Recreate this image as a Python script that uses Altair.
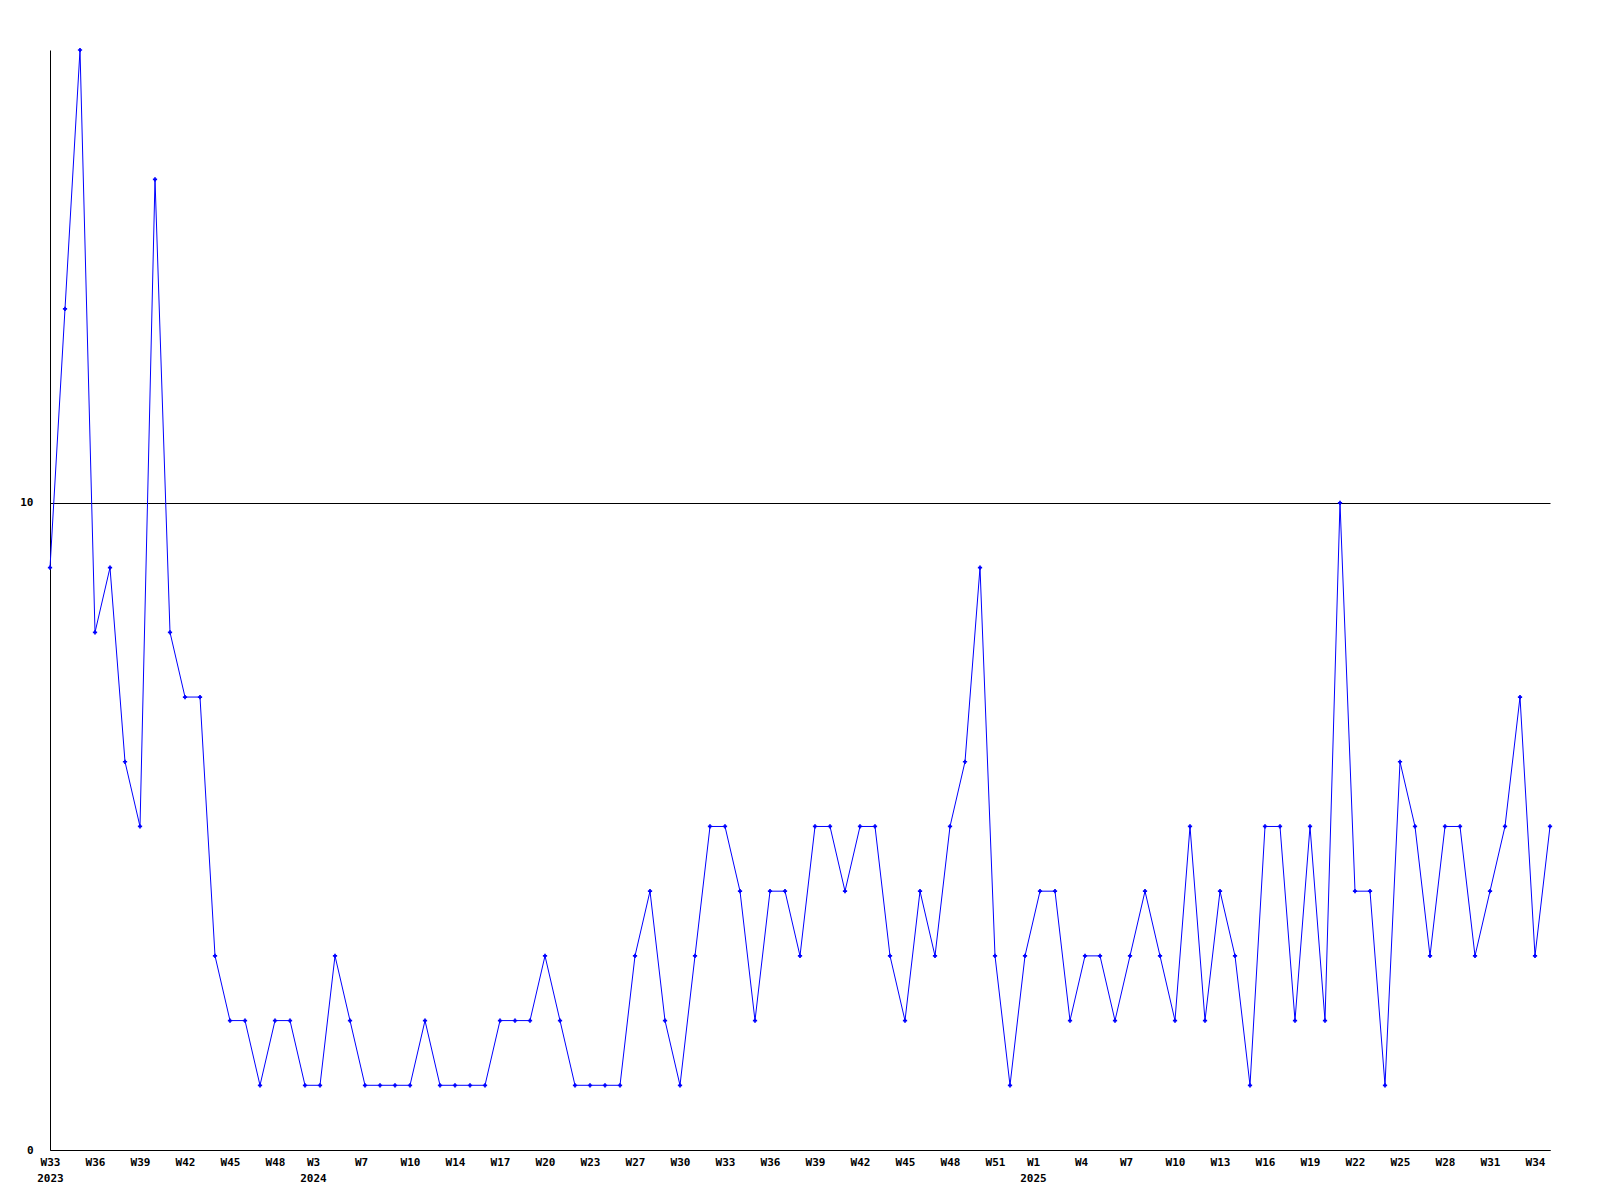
import altair as alt
import pandas as pd

values = [9, 13, 17, 8, 9, 6, 5, 15, 8, 7, 7, 3, 2, 2, 1, 2, 2, 1, 1, 3,
          2, 1, 1, 1, 1, 2, 1, 1, 1, 1, 2, 2, 2, 3, 2, 1, 1, 1, 1, 3,
          4, 2, 1, 3, 5, 5, 4, 2, 4, 4, 3, 5, 5, 4, 5, 5, 3, 2, 4, 3,
          5, 6, 9, 3, 1, 3, 4, 4, 2, 3, 3, 2, 3, 4, 3, 2, 5, 2, 4, 3,
          1, 5, 5, 2, 5, 2, 10, 4, 4, 1, 6, 5, 3, 5, 5, 3, 4, 5, 7, 3, 5]

week_labels = ["W33", "W36", "W39", "W42", "W45", "W48",
               "W3", "W7", "W10", "W14", "W17", "W20", "W23", "W27", "W30", "W33",
               "W36", "W39", "W42", "W45", "W48", "W51",
               "W1", "W4", "W7", "W10", "W13", "W16", "W19", "W22", "W25", "W28", "W31", "W34"]
year_labels = {0: "2023", 6: "2024", 22: "2025"}

df = pd.DataFrame({"i": list(range(len(values))), "v": values})

tick_vals = [3 * k for k in range(len(week_labels))]
arr = ",".join(
    "['%s','%s']" % (w, year_labels.get(k, "")) for k, w in enumerate(week_labels)
)
label_expr = "[%s][floor(datum.value/3)]" % arr

short_ticks = [3 * k for k, w in enumerate(week_labels) if len(w) < 3]
year_ticks = [3 * k for k in year_labels if k > 0]
offset_cond = {
    "condition": [
        {"test": "indexof(%s, datum.value) >= 0" % str(year_ticks), "value": -7},
        {"test": "indexof(%s, datum.value) >= 0" % str(short_ticks), "value": -4},
    ],
    "value": 0,
}

font = "DejaVu Sans Mono"

x = alt.X(
    "i:Q",
    scale=alt.Scale(domain=[0, 100], nice=False, zero=False),
    axis=alt.Axis(
        values=tick_vals, labelExpr=label_expr, title=None, grid=False,
        ticks=False, domainColor="black", labelFont=font, labelFontSize=11,
        labelFontWeight="bold", labelColor="black", labelPadding=6,
        labelLineHeight=16, labelBaseline="top", labelAlign="center",
        labelOverlap=False, labelFlush=False, labelOffset=offset_cond,
    ),
)
y = alt.Y(
    "v:Q",
    scale=alt.Scale(domain=[0, 17], nice=False),
    axis=alt.Axis(
        values=[0, 10], title=None, grid=True, gridColor="black", gridOpacity=1,
        gridWidth=1, ticks=False, domainColor="black", labelFont=font,
        labelFontSize=11, labelFontWeight="bold", labelColor="black",
        labelPadding=17, labelBaseline="middle",
    ),
)

line = alt.Chart(df).mark_line(color="#0000ff", strokeWidth=1).encode(x=x, y=y)
pts = alt.Chart(df).mark_point(shape="cross", filled=True, color="#0000ff",
                               size=18, opacity=1).encode(x=x, y=y)

chart = (line + pts).properties(
    width=1500, height=1100,
    autosize=alt.AutoSizeParams(type="none"),
    padding={"left": 42, "top": 42, "right": 42, "bottom": 42},
).configure(
    background="white",
    view=alt.ViewConfig(stroke="transparent", strokeWidth=0),
)

chart.save("out.html", embed_options={"renderer": "svg", "actions": False})
